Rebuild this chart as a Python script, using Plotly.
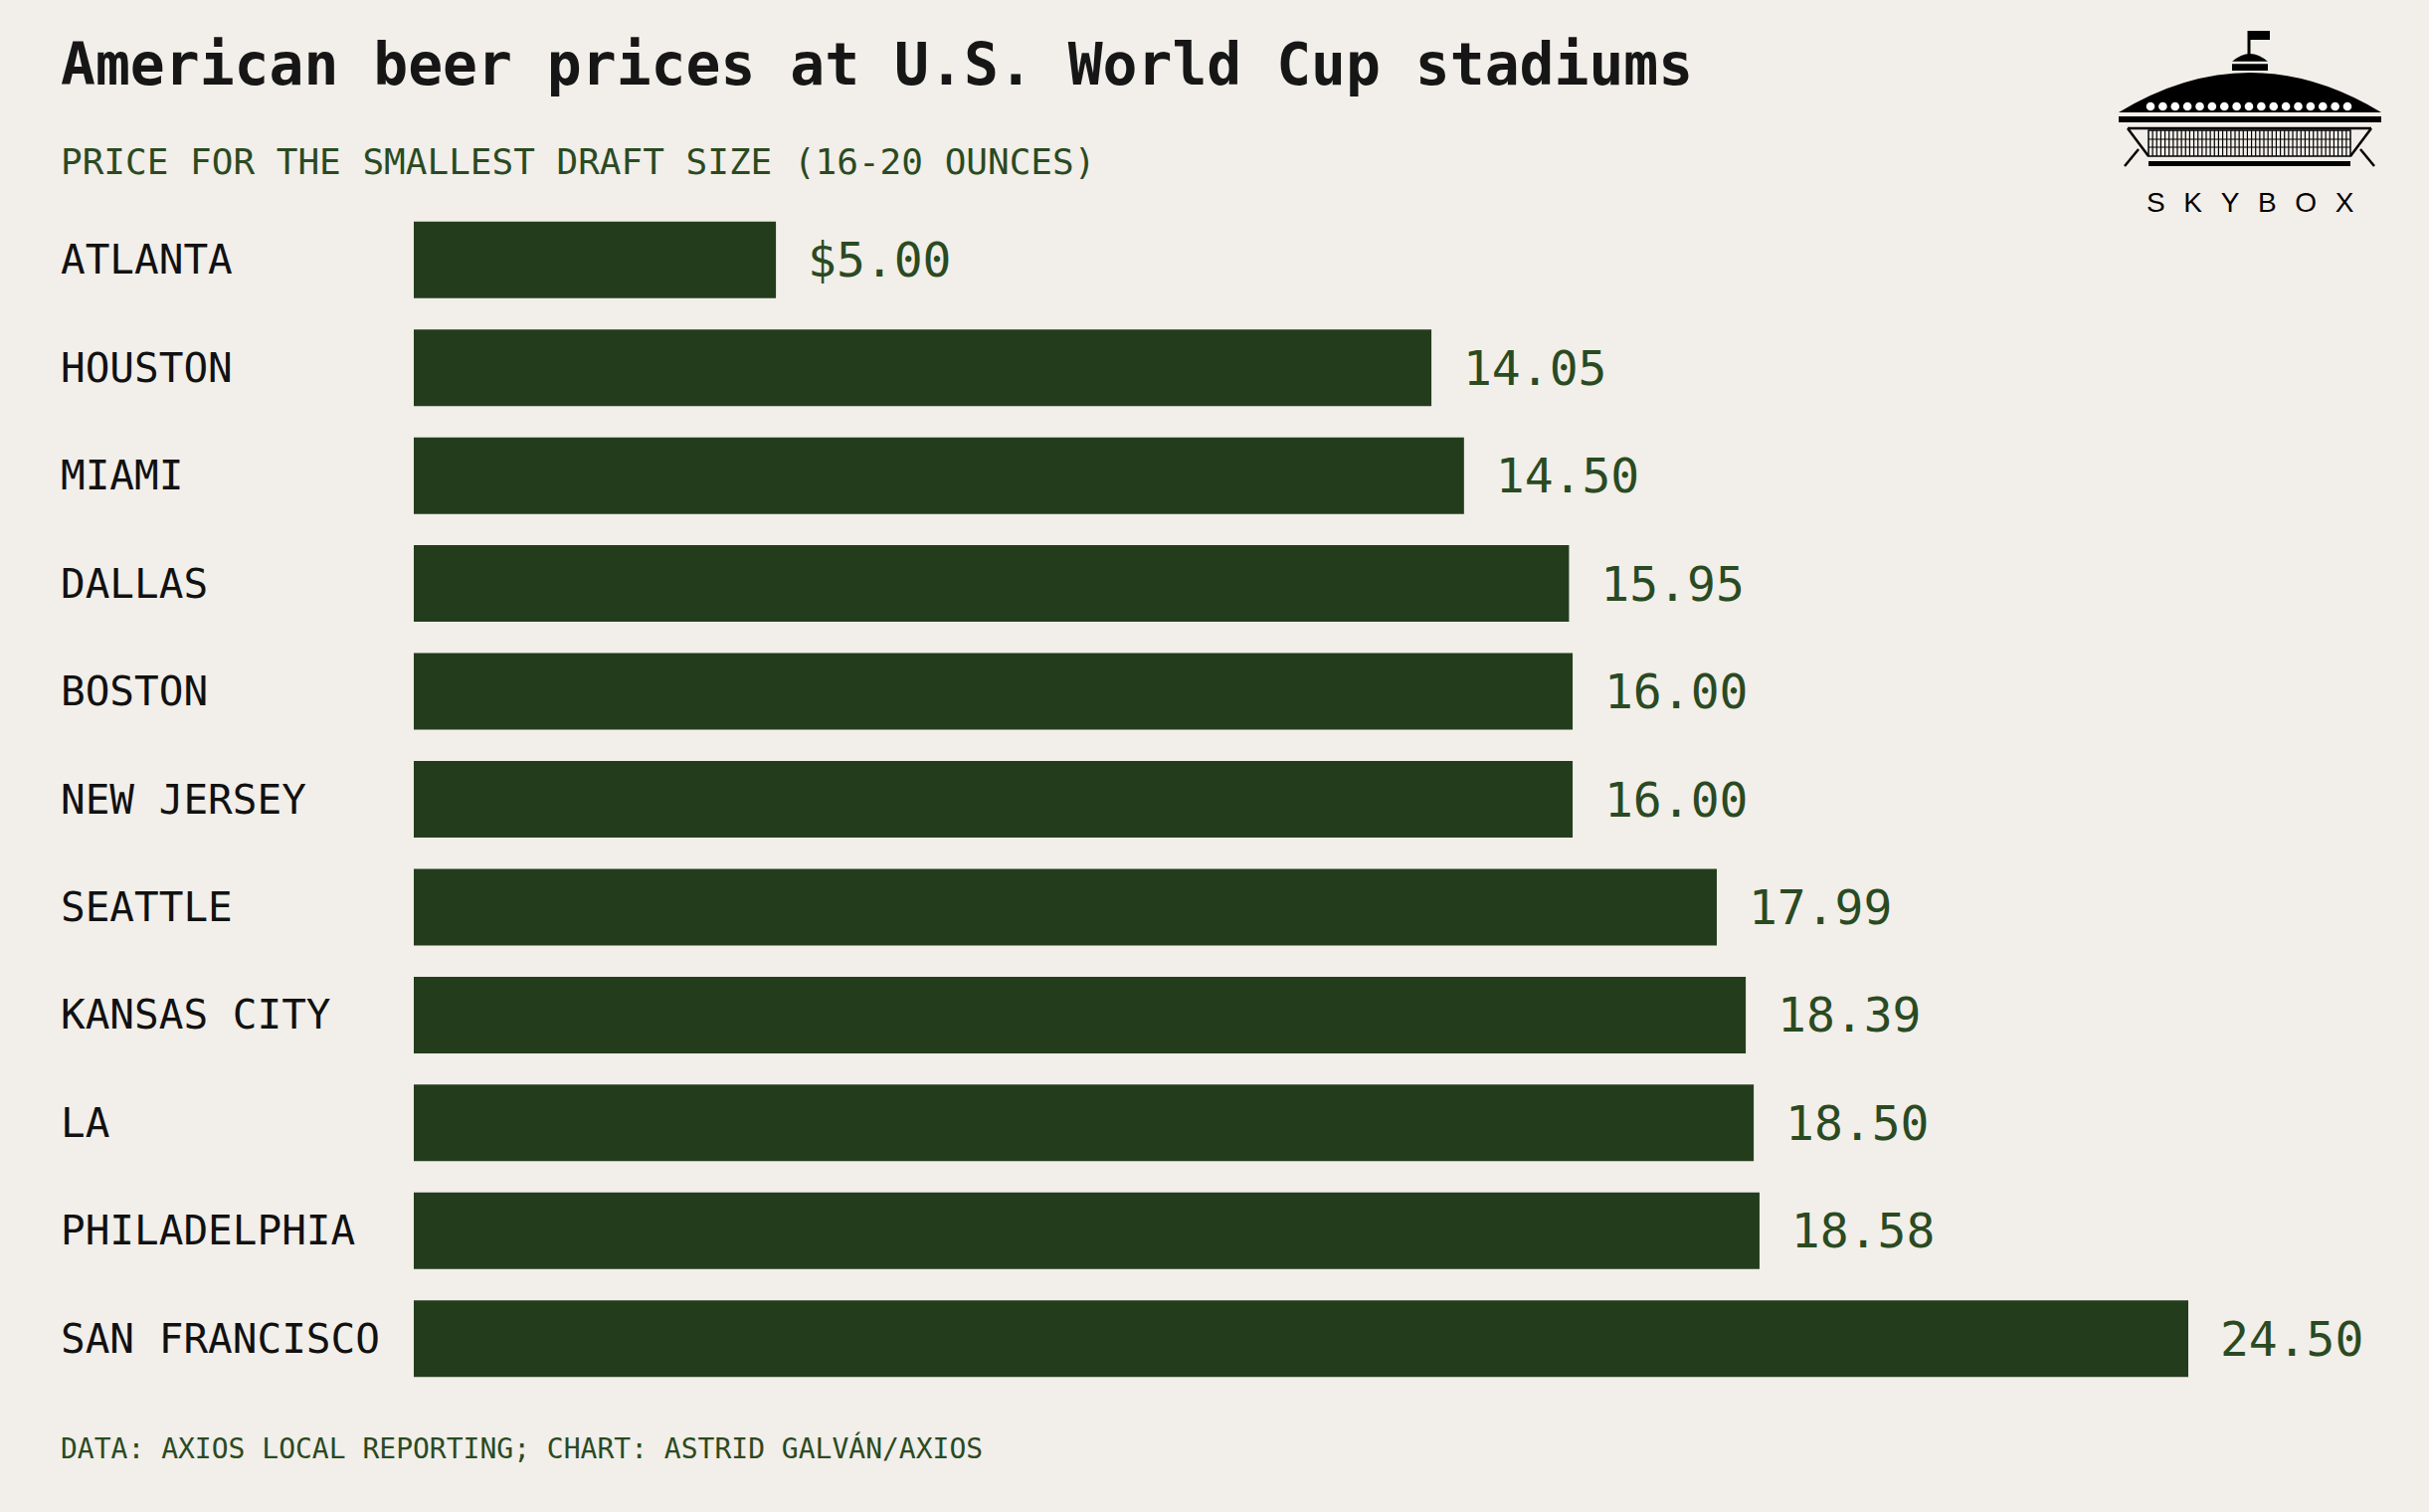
import plotly.graph_objects as go

# -----------------------------
# Data
# -----------------------------
cities = [
    "ATLANTA", "HOUSTON", "MIAMI", "DALLAS", "BOSTON", "NEW JERSEY",
    "SEATTLE", "KANSAS CITY", "LA", "PHILADELPHIA", "SAN FRANCISCO",
]
prices = [5.00, 14.05, 14.50, 15.95, 16.00, 16.00, 17.99, 18.39, 18.50, 18.58, 24.50]

# first label carries the dollar sign, the rest are plain numbers
value_labels = ["$%.2f" % prices[0]] + ["%.2f" % p for p in prices[1:]]

# -----------------------------
# Look & feel
# -----------------------------
BG = "#f2eee9"
BAR = "#233d1c"
GREEN_TEXT = "#2a4a22"
INK = "#111111"
MONO = "DejaVu Sans Mono"

W, H = 2442, 1520
L, R, T, B = 416, 20, 207, 120
PW, PH = W - L - R, H - T - B


def px(x, y):
    # pixel position on the page -> paper coordinates
    return (x - L) / PW, 1 - (y - T) / PH


fig = go.Figure(
    go.Bar(
        x=prices,
        y=cities,
        orientation="h",
        marker=dict(color=BAR, line=dict(width=0)),
        text=[" " + v for v in value_labels],
        textposition="outside",
        outsidetextfont=dict(family=MONO, size=48, color=GREEN_TEXT),
        cliponaxis=False,
        hoverinfo="skip",
    )
)

fig.update_layout(
    width=W,
    height=H,
    paper_bgcolor=BG,
    plot_bgcolor=BG,
    margin=dict(l=L, r=R, t=T, b=B),
    bargap=0.29,
    showlegend=False,
    xaxis=dict(range=[0, 24.5 * PW / (2200 - L)], visible=False, fixedrange=True),
    yaxis=dict(
        categoryorder="array",
        categoryarray=cities,
        range=[len(cities) - 0.5, -0.5],
        showticklabels=False,
        showgrid=False,
        zeroline=False,
        fixedrange=True,
    ),
)

# -----------------------------
# City names, left aligned at the page margin
# -----------------------------
for c in cities:
    fig.add_annotation(
        x=0, xref="paper", xshift=59 - L, xanchor="left",
        y=c, yref="y", yanchor="middle",
        text=c, showarrow=False,
        font=dict(family=MONO, size=41, color=INK),
    )

# -----------------------------
# Title, subtitle, footer
# -----------------------------
fig.add_annotation(
    x=0, xref="paper", xshift=59 - L, xanchor="left",
    y=1, yref="paper", yshift=T - 65, yanchor="middle",
    text="<b>American beer prices at U.S. World Cup stadiums</b>",
    showarrow=False, font=dict(family=MONO, size=58, color="#161616"),
)
fig.add_annotation(
    x=0, xref="paper", xshift=59 - L, xanchor="left",
    y=1, yref="paper", yshift=T - 162, yanchor="middle",
    text="PRICE FOR THE SMALLEST DRAFT SIZE (16-20 OUNCES)",
    showarrow=False, font=dict(family=MONO, size=36, color=GREEN_TEXT),
)
fig.add_annotation(
    x=0, xref="paper", xshift=59 - L, xanchor="left",
    y=0, yref="paper", yshift=(H - B) - 1456, yanchor="middle",
    text="DATA: AXIOS LOCAL REPORTING; CHART: ASTRID GALVÁN/AXIOS",
    showarrow=False, font=dict(family=MONO, size=28, color=GREEN_TEXT),
)

# -----------------------------
# Skybox logo (decoration, top right)
# -----------------------------
shapes = []


def line(x0, y0, x1, y1, w=2.5, color="black"):
    a, b = px(x0, y0)
    c, d = px(x1, y1)
    shapes.append(dict(type="line", xref="paper", yref="paper",
                       x0=a, y0=b, x1=c, y1=d, line=dict(color=color, width=w)))


def rect(x0, y0, x1, y1, fill="black", w=0):
    a, b = px(x0, y0)
    c, d = px(x1, y1)
    shapes.append(dict(type="rect", xref="paper", yref="paper",
                       x0=a, y0=b, x1=c, y1=d, fillcolor=fill,
                       line=dict(color="black", width=w)))


def path(points, fill="black"):
    # points: list of (cmd, x, y) in page pixels
    s = ""
    for cmd, *xy in points:
        if cmd == "Z":
            s += " Z"
            continue
        coords = [px(xy[i], xy[i + 1]) for i in range(0, len(xy), 2)]
        s += " " + cmd + " " + " ".join("%.5f,%.5f" % p for p in coords)
    shapes.append(dict(type="path", xref="paper", yref="paper", path=s.strip(),
                       fillcolor=fill, line=dict(color=fill, width=0)))


# flag
line(2261, 31, 2261, 55, w=3)
rect(2261, 31, 2282, 40)
# little cap on top of the dome
path([("M", 2244, 71), ("L", 2244, 62), ("Q", 2262, 46, 2280, 62), ("L", 2280, 71), ("Z",)])
line(2243, 63, 2281, 63, w=2.5, color=BG)
# dome
path([("M", 2130, 113), ("Q", 2262, 33, 2394, 113), ("Z",)])
# windows on the dome
for i in range(17):
    cx = 2162 + i * (2360 - 2162) / 16
    a, b = px(cx - 4.3, 102.7)
    c, d = px(cx + 4.3, 111.3)
    shapes.append(dict(type="circle", xref="paper", yref="paper",
                       x0=a, y0=b, x1=c, y1=d, fillcolor="white",
                       line=dict(width=0)))
# band under the dome
rect(2130, 117, 2394, 123)
# stand
line(2139, 129, 2384, 129, w=2.5)
line(2139, 129, 2160, 157, w=2.5)
line(2384, 129, 2363, 157, w=2.5)
rect(2160, 131, 2363, 157, fill="rgba(0,0,0,0)", w=1.5)
for i in range(1, 49):
    gx = 2160 + i * (2363 - 2160) / 49
    line(gx, 131, gx, 157, w=1.2)
line(2160, 140, 2363, 140, w=1.2)
line(2160, 148, 2363, 148, w=1.2)
# legs and base
line(2150, 150, 2136, 167, w=2.5)
line(2373, 150, 2387, 167, w=2.5)
rect(2160, 162, 2363, 167)

fig.update_layout(shapes=shapes)

sx, sy = px(2262, 203)
fig.add_annotation(
    x=sx, y=sy, xref="paper", yref="paper", xanchor="center", yanchor="middle",
    text="\u2002\u2006".join("SKYBOX"),
    showarrow=False, font=dict(family="Liberation Sans", size=28, color="black"),
)

# drop the default page margin so the figure sits flush in the window
fig.write_html(
    "out.html",
    config={"displayModeBar": False},
    post_script="document.body.style.margin='0';",
)
